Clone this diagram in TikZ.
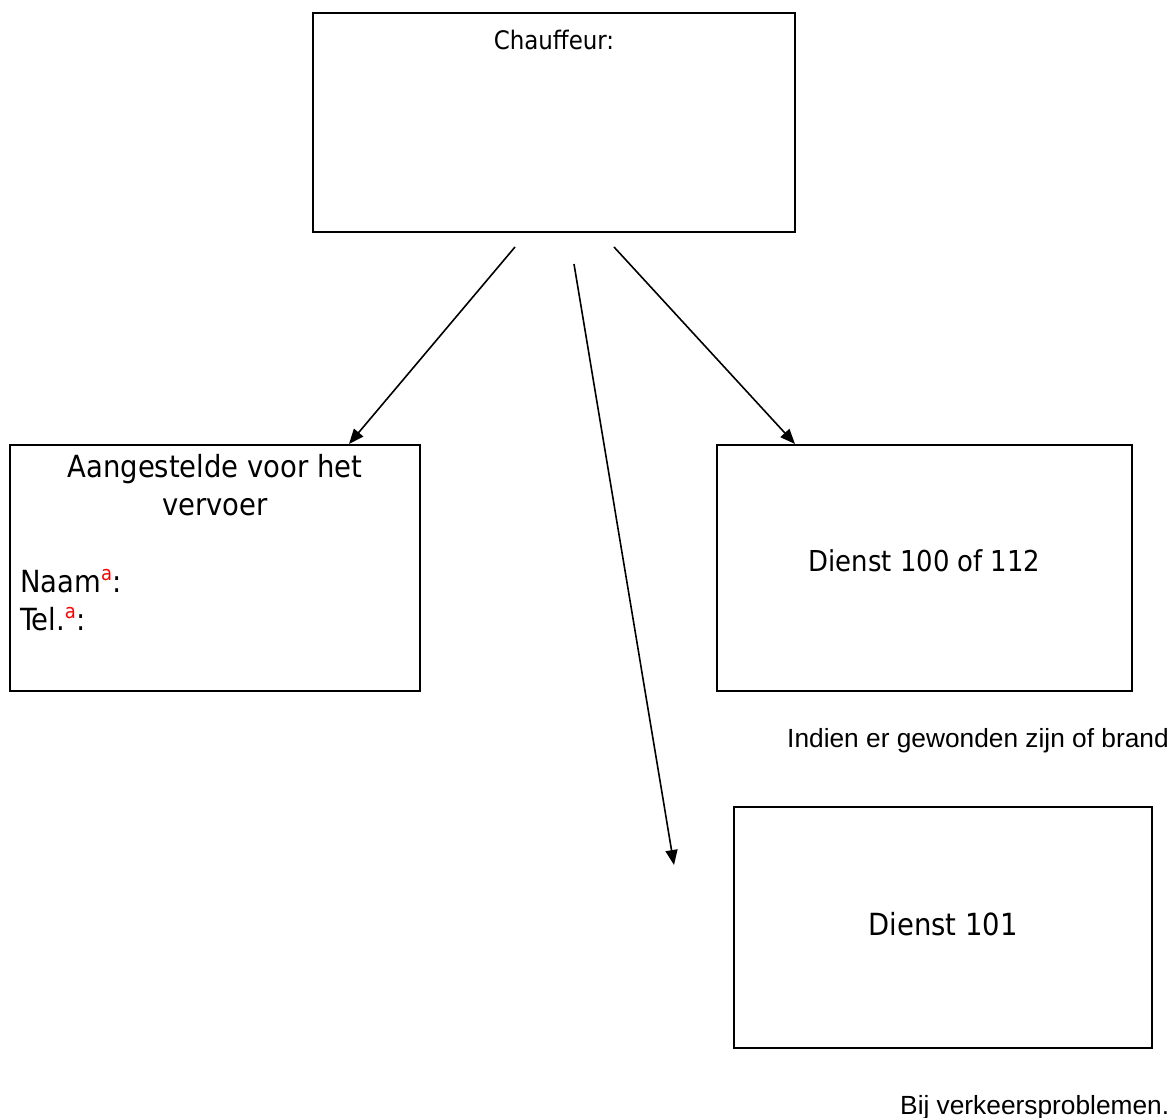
\documentclass[tikz,border=0pt]{standalone}
\usepackage{fontspec}
\setmainfont{Liberation Sans}
\newfontfamily\boxfont{DejaVu Sans Condensed}
\usetikzlibrary{arrows.meta}
\newcommand{\supa}{{\color{red}\fontsize{20}{20}\selectfont\raisebox{12pt}{a}}}
\tikzset{
  box/.style={draw=black, line width=2pt, fill=none, inner sep=0pt},
  conn/.style={line width=1.6pt, -{Triangle[length=15pt,width=12pt]}},
  btxt/.style={font=\boxfont\fontsize{30.5}{38}\selectfont, inner sep=0pt},
  stxt/.style={font=\boxfont\fontsize{25.5}{30}\selectfont, inner sep=0pt},
  ltxt/.style={font=\fontsize{26.3}{30}\selectfont, inner sep=0pt}
}
\begin{document}
\begin{tikzpicture}[x=1pt,y=-1pt]
\useasboundingbox[fill=white] (0,0) rectangle (1173,1118);
% boxes
\node[box, minimum width=482pt, minimum height=219pt] (chauf) at (554,122.5) {};
\node[box, minimum width=410pt, minimum height=246pt] (aang) at (215,568) {};
\node[box, minimum width=415pt, minimum height=246pt] (d100) at (924.5,568) {};
\node[box, minimum width=418pt, minimum height=241pt] (d101) at (943,927.5) {};
% texts
\node[stxt, anchor=base] (chauftxt) at (554,50) {Chauffeur:};
\node[btxt, anchor=base, align=center] (aangtxt) at (215,515) {Aangestelde voor het\\vervoer};
\node[btxt, anchor=base west, align=left] (naamtxt) at (20,630) {Naam\supa:\\Tel.\supa:};
\node[btxt, anchor=base, font=\boxfont\fontsize{28.8}{34}\selectfont] (d100txt) at (924.5,571) {Dienst 100 of 112};
\node[btxt, anchor=base] (d101txt) at (943,935) {Dienst 101};
\node[ltxt, anchor=base west] (lbl1) at (787,747) {Indien er gewonden zijn of brand};
\node[ltxt, anchor=base west] (lbl2) at (900,1114) {Bij verkeersproblemen.};
% connector ends
\coordinate (s1) at (515,247);
\coordinate (t1) at (349,444);
\coordinate (s2) at (574,264);
\coordinate (t2) at (674,865);
\coordinate (s3) at (614,247);
\coordinate (t3) at (795,444);
\draw[conn] (s1) -- (t1);
\draw[conn] (s2) -- (t2);
\draw[conn] (s3) -- (t3);
\end{tikzpicture}
\end{document}
